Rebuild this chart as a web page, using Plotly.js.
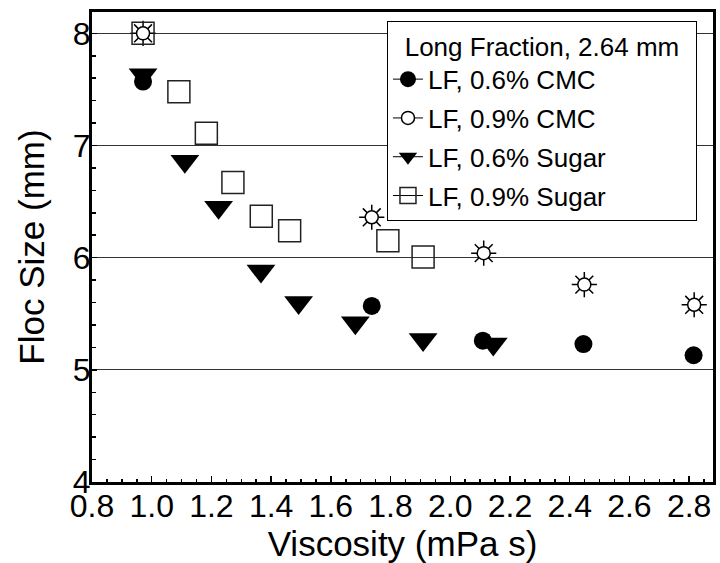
<!DOCTYPE html>
<html><head><meta charset="utf-8">
<script src="https://cdn.plot.ly/plotly-3.0.1.min.js"></script>
<style>html,body{margin:0;padding:0;background:#fff}#chart{width:720px;height:563px}</style>
</head><body><div id="chart"></div>
<script>
const legendTitle = 'Long Fraction, 2.64 mm';
const seriesNames = ['LF, 0.6% CMC', 'LF, 0.9% CMC', 'LF, 0.6% Sugar', 'LF, 0.9% Sugar'];
const cmc06X = [0.971, 1.737, 2.109, 2.446, 2.815];
const cmc06Y = [7.57, 5.57, 5.26, 5.23, 5.13];
const cmc09X = [0.971, 1.737, 2.112, 2.449, 2.817];
const cmc09Y = [8.00, 6.36, 6.04, 5.76, 5.58];
const sug06X = [0.971, 1.111, 1.224, 1.366, 1.492, 1.682, 1.909, 2.144];
const sug06Y = [7.63, 6.86, 6.45, 5.88, 5.60, 5.42, 5.27, 5.23];
const sug09X = [0.971, 1.091, 1.183, 1.272, 1.367, 1.462, 1.791, 1.909];
const sug09Y = [8.00, 7.48, 7.11, 6.67, 6.37, 6.24, 6.15, 6.005];
const xTickVals = [0.8, 1.0, 1.2, 1.4, 1.6, 1.8, 2.0, 2.2, 2.4, 2.6, 2.8];
const yTickVals = [4, 5, 6, 7, 8];
const xTitle = 'Viscosity (mPa s)';
const yTitle = 'Floc Size (mm)';

// isolate each point with a gap so the line only shows in the legend
function gapped(a) { const out = []; a.forEach((v, i) => { if (i) out.push(null); out.push(v); }); return out; }

const FONT = '"Liberation Sans", Arial, sans-serif';
const legLine = {color: '#000', width: 1};
const NB = '\u00a0\u00a0';

const traces = [
  {x: gapped(cmc06X), y: gapped(cmc06Y), name: seriesNames[0], legendgroup: 'a', mode: 'lines+markers',
   connectgaps: false, line: legLine,
   marker: {symbol: 'circle', size: 18, color: '#000'}},
  {x: cmc09X, y: cmc09Y, name: seriesNames[1], legendgroup: 'b', showlegend: false, mode: 'markers',
   marker: {symbol: 'asterisk-open', size: 21, color: '#000', line: {color: '#000', width: 1.5}}},
  {x: gapped(cmc09X), y: gapped(cmc09Y), name: seriesNames[1], legendgroup: 'b', mode: 'lines+markers',
   connectgaps: false, line: legLine,
   marker: {symbol: 'circle', size: 13, color: '#fff', line: {color: '#000', width: 1.5}}},
  {x: gapped(sug06X), y: gapped(sug06Y), name: seriesNames[2], legendgroup: 'c', mode: 'lines+markers',
   connectgaps: false, line: legLine,
   marker: {symbol: 'triangle-down', size: 25, color: '#000'}},
  {x: gapped(sug09X), y: gapped(sug09Y), name: seriesNames[3], legendgroup: 'd', mode: 'lines+markers',
   connectgaps: false, line: legLine,
   marker: {symbol: 'square-open', size: 22, color: '#222', line: {color: '#222', width: 1.5}}}
];

const layout = {
  width: 720, height: 563,
  margin: {l: 92, r: 7, t: 12, b: 81},
  paper_bgcolor: '#fff', plot_bgcolor: '#fff',
  font: {family: FONT, color: '#000'},
  showlegend: true,
  legend: {
    x: 0.475, y: 0.981, xanchor: 'left', yanchor: 'top',
    bgcolor: '#fff', bordercolor: '#000', borderwidth: 1,
    font: {family: FONT, size: 26, color: '#000'},
    title: {text: NB + legendTitle + NB, side: 'top center', font: {family: FONT, size: 26, color: '#000'}},
    traceorder: 'grouped', tracegroupgap: 2, itemsizing: 'trace'
  },
  xaxis: {
    range: [0.8, 2.88], tickmode: 'array', tickvals: xTickVals, tickformat: '.1f',
    ticks: 'inside', ticklen: 6, tickwidth: 1.5, tickcolor: '#000',
    minor: {dtick: 0.05, ticks: 'inside', ticklen: 3, tickwidth: 1.5, tickcolor: '#000', showgrid: false},
    showgrid: false, zeroline: false,
    showline: true, linecolor: '#000', linewidth: 3, mirror: true,
    tickfont: {family: FONT, size: 32, color: '#000'}, ticklabelstandoff: -6,
    title: {text: xTitle, font: {family: FONT, size: 35, color: '#000'}, standoff: 15}
  },
  yaxis: {
    range: [4, 8.19], tickmode: 'array', tickvals: yTickVals,
    ticks: 'inside', ticklen: 5, tickwidth: 1.5, tickcolor: '#000',
    minor: {dtick: 0.2, ticks: 'inside', ticklen: 4, tickwidth: 1.5, tickcolor: '#000', showgrid: false},
    showgrid: true, gridcolor: '#333', gridwidth: 1, zeroline: false,
    showline: true, linecolor: '#000', linewidth: 3, mirror: true,
    tickfont: {family: FONT, size: 32, color: '#000'}, ticklabelstandoff: -8,
    title: {text: yTitle, font: {family: FONT, size: 35, color: '#000'}, standoff: 18}
  }
};

Plotly.newPlot('chart', traces, layout, {displayModeBar: false, staticPlot: true});
</script>
</body></html>
